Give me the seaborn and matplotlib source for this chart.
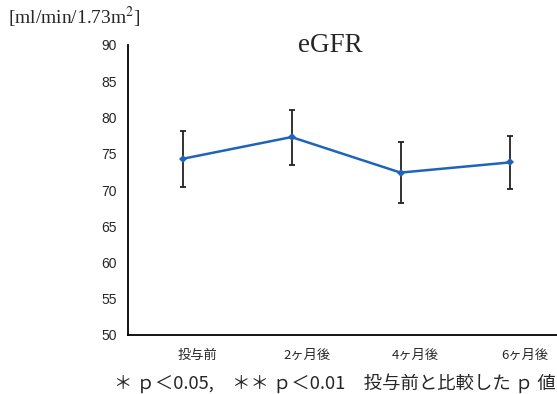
import matplotlib
matplotlib.use("Agg")
import matplotlib.pyplot as plt
import seaborn as sns
import numpy as np
import pandas as pd

categories = ["投与前", "2ヶ月後", "4ヶ月後", "6ヶ月後"]
means = [74.3, 77.3, 72.4, 73.8]
errors = [3.9, 3.8, 4.2, 3.7]
y_ticks = [50, 55, 60, 65, 70, 75, 80, 85, 90]

sns.set_style("white")
plt.rcParams['font.family'] = ['Noto Sans CJK JP', 'DejaVu Sans']

df = pd.DataFrame({"pos": np.arange(len(categories)), "eGFR": means})

fig = plt.figure(figsize=(5.57, 3.94), dpi=100)
ax = fig.add_axes([128/557, 1-335/394, (564-128)/557, (335-45)/394])

ax.errorbar(df["pos"], df["eGFR"], yerr=errors, fmt="none", ecolor="#222222",
            elinewidth=1.3, capsize=2.5, capthick=1.3, zorder=2)
sns.lineplot(data=df, x="pos", y="eGFR", ax=ax, color="#1f64b8", linewidth=1.8,
             marker="D", markersize=4, markeredgewidth=0, zorder=3)

ax.set_xlim(-0.5, len(categories) - 0.5)
ax.set_ylim(50, 90)
ax.set_yticks(y_ticks)
ax.set_yticklabels([str(v) for v in y_ticks], fontsize=10, family=['Liberation Sans'])
ax.set_xticks(np.arange(len(categories)) + 0.14)
ax.set_xticklabels(categories, fontsize=9.5)
ax.tick_params(axis='x', which='major', length=0, pad=10)
ax.set_xticks([0.5, 1.5, 2.5], minor=True)
ax.tick_params(axis='x', which='minor', length=3, width=1.2, direction='out', color='black')
ax.tick_params(axis='y', length=4, width=1.2, direction='out', color='black', pad=4)
ax.set_xlabel("")
ax.set_ylabel("")

for s in ["top", "right"]:
    ax.spines[s].set_visible(False)
for s in ["left", "bottom"]:
    ax.spines[s].set_color("black")
    ax.spines[s].set_linewidth(1.3)

fig.text(330/557, 1-45/394, "eGFR", ha="center", va="center", fontsize=19.5,
         family=['Liberation Serif'])
fig.text(8/557, 1-17/394, "[ml/min/1.73m$^2$]", ha="left", va="center", fontsize=14,
         family=['Liberation Serif'], math_fontfamily='stix')
fig.text(335/557, 1-383/394, "＊ ｐ＜0.05,　＊＊ ｐ＜0.01　投与前と比較した ｐ 値",
         ha="center", va="center", fontsize=13.2)

fig.savefig("out.png", dpi=100)
